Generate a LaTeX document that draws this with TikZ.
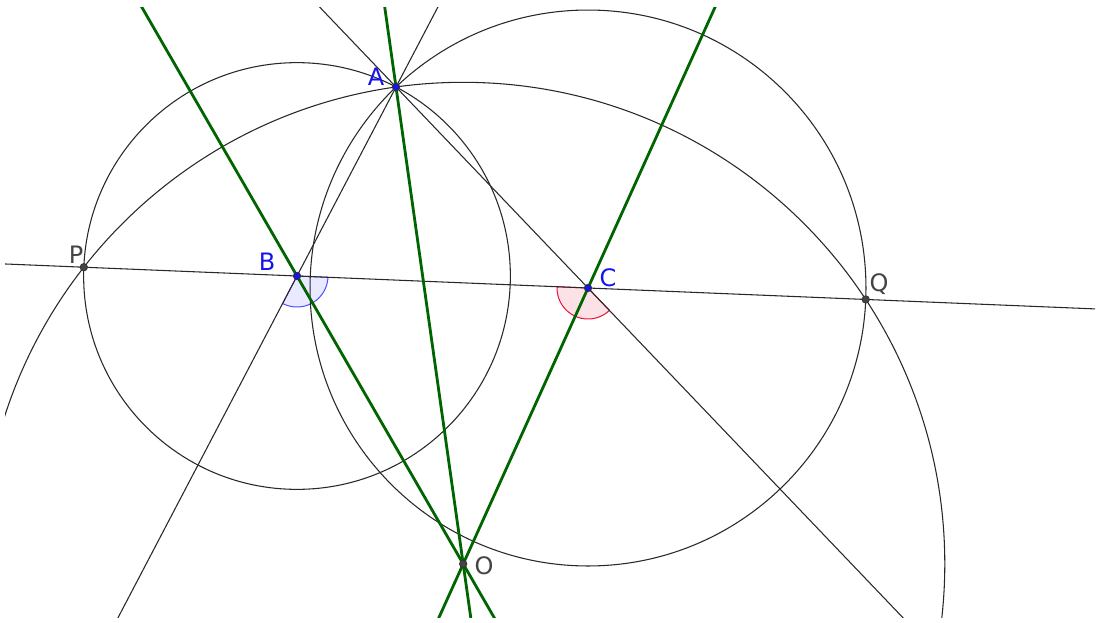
\documentclass[tikz,border=0pt]{standalone}
\usepackage{fontspec}
\setmainfont{DejaVu Sans}
\usepackage{xcolor}
\usetikzlibrary{calc}

\definecolor{lineblack}{RGB}{40,40,40}
\definecolor{ggreen}{RGB}{0,100,0}
\definecolor{ptblue}{RGB}{20,20,235}
\definecolor{ptgray}{RGB}{68,68,68}
\definecolor{angblue}{RGB}{77,77,255}
\definecolor{angred}{RGB}{230,20,60}

\tikzset{
  thinline/.style={draw=lineblack,line width=0.8pt},
  greenline/.style={draw=ggreen,line width=2.1pt},
  bluedot/.style={fill=ptblue,draw=black!80,line width=0.6pt},
  graydot/.style={fill=ptgray,draw=black!80,line width=0.6pt},
  bluelbl/.style={text=ptblue,inner sep=0.75pt,font=\fontsize{18}{20}\selectfont},
  graylbl/.style={text=ptgray,inner sep=0.75pt,font=\fontsize{18}{20}\selectfont},
}

\begin{document}
\begin{tikzpicture}[x=0.75pt,y=0.75pt,yscale=-1,xscale=1]
\useasboundingbox (0,0) rectangle (1100,622);
\clip (5,7) rectangle (1095,617);

%Points
\coordinate (A) at (396,87);
\coordinate (B) at (297,276);
\coordinate (C) at (588,288);
\coordinate (P) at (83.82,267.21);
\coordinate (Q) at (865.73,299.45);
\coordinate (O) at (463.19,563.9);

%Angle at B
\filldraw [draw=angblue,fill=angblue,fill opacity=0.12,line width=0.75pt]  (B) -- ++(2.36:31) arc [start angle=2.36,end angle=117.64,radius=31] -- cycle ;
%Angle at C
\filldraw [draw=angred,fill=angred,fill opacity=0.12,line width=0.75pt]  (C) -- ++(46.31:31) arc [start angle=46.31,end angle=182.36,radius=31] -- cycle ;

%Straight Lines
\draw [thinline]  ($(P)!-1!(Q)$) -- ($(Q)!-1!(P)$) ;
\draw [thinline]  ($(A)!-1!(B)$) -- ($(A)!3!(B)$) ;
\draw [thinline]  ($(A)!-1!(C)$) -- ($(A)!3!(C)$) ;

%Circles
\draw [thinline]  (B) circle (213.36) ;
\draw [thinline]  (C) circle (277.97) ;
\draw [thinline]  (O) circle (481.6) ;

%Green Lines
\draw [greenline]  ($(O)!-0.2!(A)$) -- ($(O)!1.3!(A)$) ;
\draw [greenline]  ($(O)!-0.3!(B)$) -- ($(O)!2.1!(B)$) ;
\draw [greenline]  ($(O)!-0.3!(C)$) -- ($(O)!2.2!(C)$) ;

%Dots
\filldraw [bluedot]  (A) circle (3.7) ;
\filldraw [bluedot]  (B) circle (3.7) ;
\filldraw [bluedot]  (C) circle (3.7) ;
\filldraw [graydot]  (P) circle (3.7) ;
\filldraw [graydot]  (Q) circle (3.7) ;
\filldraw [graydot]  (O) circle (3.7) ;

% Text Node
\node [bluelbl] (labA) at (376,77) {A};
% Text Node
\node [bluelbl] (labB) at (267,262) {B};
% Text Node
\node [bluelbl] (labC) at (608,278) {C};
% Text Node
\node [graylbl] (labP) at (76,255) {P};
% Text Node
\node [graylbl] (labQ) at (879,284) {Q};
% Text Node
\node [graylbl] (labO) at (484,566) {O};
\end{tikzpicture}
\end{document}
